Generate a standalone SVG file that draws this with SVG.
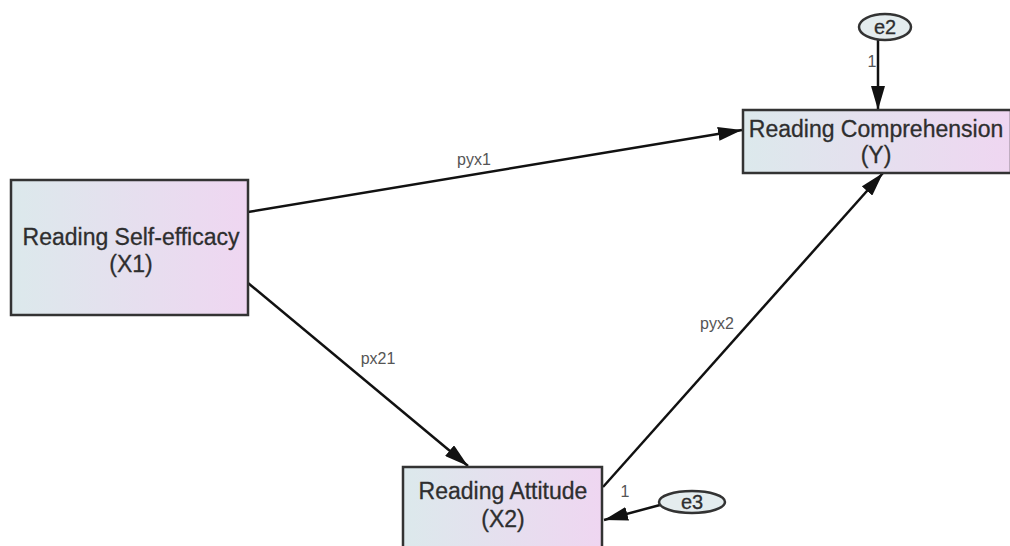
<svg xmlns="http://www.w3.org/2000/svg" width="1010" height="546" viewBox="0 0 1010 546">
<defs>
<linearGradient id="g" x1="0" y1="0" x2="1" y2="0">
<stop offset="0" stop-color="#dce9ec"/>
<stop offset="1" stop-color="#efd6f1"/>
</linearGradient>
<marker id="ahb" viewBox="0 0 10 10" refX="10" refY="5" markerWidth="24" markerHeight="14" markerUnits="userSpaceOnUse" orient="auto" preserveAspectRatio="none">
<path d="M0,0 L10,5 L0,10 z" fill="#111"/>
</marker>
</defs>
<style>
.box{fill:url(#g);stroke:#333;stroke-width:2.5}
.ell{fill:#e4ecee;stroke:#333;stroke-width:2.5}
.t{font-family:"Liberation Sans",Arial,sans-serif;font-size:23px;fill:#2e2e2e;text-anchor:middle;stroke:#2e2e2e;stroke-width:0.3}
.lab{font-family:"Liberation Sans",Arial,sans-serif;font-size:16px;fill:#555;text-anchor:middle}
.c{stroke:#111;stroke-width:2.5;fill:none;marker-end:url(#ahb)}
</style>
<g id="connectors">
<line class="c" x1="878" y1="40" x2="878" y2="110"/>
<line class="c" x1="248" y1="212" x2="742" y2="130"/>
<line class="c" x1="248" y1="283" x2="468" y2="466"/>
<line class="c" x1="603" y1="487" x2="883" y2="173"/>
<line class="c" x1="660" y1="505" x2="604" y2="520"/>
<text class="lab" x="872" y="67">1</text>
<text class="lab" x="474" y="165">pyx1</text>
<text class="lab" x="378" y="364">px21</text>
<text class="lab" x="717" y="329">pyx2</text>
<text class="lab" x="625" y="497">1</text>
</g>
<g id="X1">
<rect class="box" x="11" y="180" width="237" height="135"/>
<text class="t" x="131" y="245">Reading Self-efficacy</text>
<text class="t" x="131" y="272">(X1)</text>
</g>
<g id="Y">
<rect class="box" x="743" y="110" width="268" height="63"/>
<text class="t" x="876" y="137">Reading Comprehension</text>
<text class="t" x="876" y="163">(Y)</text>
</g>
<g id="X2">
<rect class="box" x="403" y="467" width="199" height="82"/>
<text class="t" x="503" y="499">Reading Attitude</text>
<text class="t" x="503" y="527">(X2)</text>
</g>
<g id="e2">
<ellipse class="ell" cx="885" cy="27" rx="26" ry="13"/>
<text class="t" x="885" y="34" style="font-size:20px">e2</text>
</g>
<g id="e3">
<ellipse class="ell" cx="692" cy="502" rx="33" ry="11"/>
<text class="t" x="692" y="509" style="font-size:20px">e3</text>
</g>
</svg>
